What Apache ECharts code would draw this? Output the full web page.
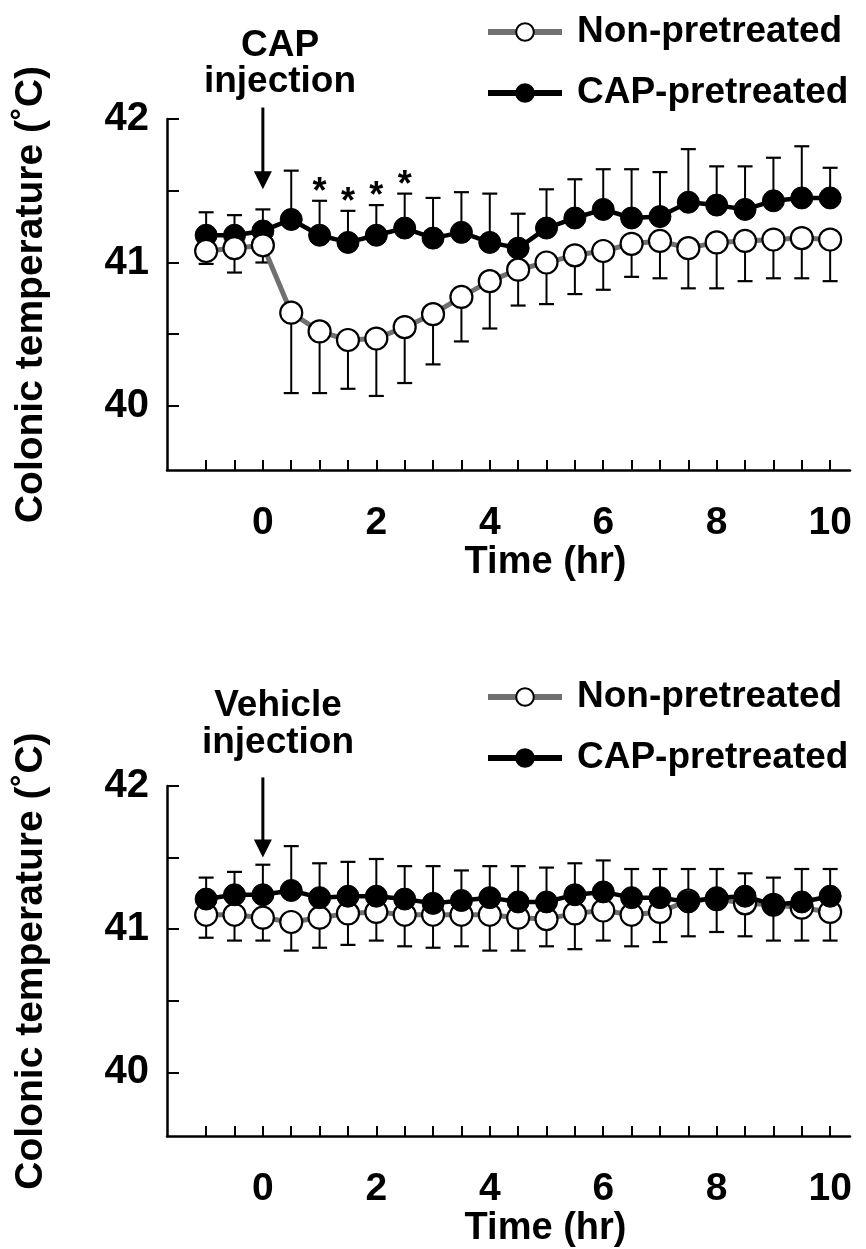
<!DOCTYPE html>
<html><head><meta charset="utf-8">
<script src="https://cdn.jsdelivr.net/npm/echarts@6/dist/echarts.min.js"></script>
<style>html,body{margin:0;padding:0;background:#fff}#c{width:866px;height:1249px}</style>
</head><body><div id="c"></div>
<script>
// ---------- data ----------
const times = [-1,-0.5,0,0.5,1,1.5,2,2.5,3,3.5,4,4.5,5,5.5,6,6.5,7,7.5,8,8.5,9,9.5,10];

// Top panel: CAP injection
const capNon   = [41.08,41.10,41.12,40.65,40.52,40.46,40.47,40.55,40.64,40.76,40.87,40.95,41.00,41.05,41.08,41.13,41.15,41.10,41.14,41.15,41.16,41.17,41.16];
const capNonLo = [40.99,40.93,41.00,40.09,40.09,40.12,40.07,40.16,40.29,40.45,40.54,40.70,40.71,40.78,40.81,40.90,40.89,40.82,40.82,40.87,40.89,40.89,40.87];
const capPre   = [41.19,41.19,41.22,41.30,41.19,41.14,41.19,41.24,41.17,41.21,41.14,41.10,41.24,41.31,41.37,41.31,41.32,41.42,41.40,41.37,41.43,41.45,41.45];
const capPreHi = [41.35,41.33,41.37,41.64,41.43,41.36,41.40,41.48,41.45,41.49,41.48,41.34,41.51,41.58,41.65,41.65,41.63,41.79,41.67,41.67,41.73,41.81,41.66];
const sigTimes = [1,1.5,2,2.5];

// Bottom panel: Vehicle injection
const vehNon   = [41.10,41.10,41.08,41.05,41.08,41.11,41.12,41.10,41.10,41.10,41.10,41.08,41.07,41.11,41.13,41.10,41.12,41.20,41.21,41.18,41.17,41.15,41.12];
const vehNonLo = [40.94,40.92,40.92,40.85,40.87,40.89,40.92,40.88,40.87,40.88,40.85,40.85,40.88,40.86,40.92,40.88,40.91,40.95,40.98,40.95,40.92,40.92,40.92];
const vehPre   = [41.21,41.24,41.24,41.27,41.22,41.23,41.23,41.21,41.18,41.20,41.22,41.19,41.19,41.24,41.26,41.22,41.22,41.19,41.22,41.23,41.17,41.19,41.23];
const vehPreHi = [41.36,41.40,41.45,41.58,41.46,41.47,41.49,41.44,41.44,41.41,41.44,41.44,41.43,41.46,41.48,41.42,41.42,41.42,41.42,41.39,41.36,41.42,41.42];

// axes / ticks
const xTicks  = [-1,-0.5,0,0.5,1,1.5,2,2.5,3,3.5,4,4.5,5,5.5,6,6.5,7,7.5,8,8.5,9,9.5,10];
const xLabels = [0,2,4,6,8,10];
const yTicks  = [40,40.5,41,41.5,42];
const yLabels = [40,41,42];
const seriesNames = ['Non-pretreated','CAP-pretreated'];
const annotTop = ['CAP','injection'];
const annotBottom = ['Vehicle','injection'];
const arrowTop = [0, 42.08, 41.51];
const arrowBottom = [0, 42.06, 41.50];
const xName = 'Time (hr)';
const yName = 'Colonic temperature (˚C)';

// ---------- chart ----------
const FF = "'Liberation Sans', Arial, Helvetica, sans-serif";
const chart = echarts.init(document.getElementById('c'), null, {renderer:'canvas'});

function pairs(ys){ return times.map((t,i)=>[t, ys[i]]); }
function errData(ys, ends){ return times.map((t,i)=>[t, ys[i], ends[i]]); }

function errRender(params, api){
  const p0 = api.coord([api.value(0), api.value(1)]);
  const p1 = api.coord([api.value(0), api.value(2)]);
  const hw = 7.5;
  return {type:'group', children:[
    {type:'line', shape:{x1:p0[0],y1:p0[1],x2:p1[0],y2:p1[1]}, style:{stroke:'#000', lineWidth:2}},
    {type:'line', shape:{x1:p1[0]-hw,y1:p1[1],x2:p1[0]+hw,y2:p1[1]}, style:{stroke:'#000', lineWidth:2.2}}
  ]};
}
function arrowRender(params, api){
  const p0 = api.coord([api.value(0), api.value(1)]);
  const p1 = api.coord([api.value(0), api.value(2)]);
  const hl = 18, hw = 9;
  return {type:'group', children:[
    {type:'line', shape:{x1:p0[0],y1:p0[1],x2:p1[0],y2:p1[1]-hl+2}, style:{stroke:'#000', lineWidth:3}},
    {type:'polygon', shape:{points:[[p1[0]-hw,p1[1]-hl],[p1[0]+hw,p1[1]-hl],[p1[0],p1[1]]]}, style:{fill:'#000'}}
  ]};
}
function starRender(params, api){
  const p = api.coord([api.value(0), api.value(1)]);
  return {type:'text', x:p[0], y:p[1]-8, style:{text:'*', font:'bold 36px '+FF, fill:'#000', align:'center', verticalAlign:'middle'}};
}

function makeX(gi){
  return {
    type:'value', gridIndex:gi, min:-1.69, max:10.35,
    name:xName, nameLocation:'middle', nameGap:68,
    nameTextStyle:{fontSize:38, fontWeight:'bold', color:'#000', fontFamily:FF, padding:[0,0,0,74]},
    axisLine:{onZero:false, lineStyle:{color:'#000', width:2.5}},
    axisTick:{show:true, inside:true, length:10, lineStyle:{color:'#000', width:2}, customValues:xTicks},
    axisLabel:{customValues:xLabels, fontSize:39, fontWeight:'bold', color:'#000', fontFamily:FF, margin:34},
    splitLine:{show:false}
  };
}
function makeY(gi){
  return {
    type:'value', gridIndex:gi, min:39.554, max:42,
    name:yName, nameLocation:'middle', nameGap:116,
    nameTextStyle:{fontSize:39, fontWeight:'bold', color:'#000', fontFamily:FF},
    axisLine:{show:true, onZero:false, lineStyle:{color:'#000', width:2.5}},
    axisTick:{show:true, inside:true, length:12, lineStyle:{color:'#000', width:2}, customValues:yTicks},
    axisLabel:{customValues:yLabels, fontSize:40, fontWeight:'bold', color:'#000', fontFamily:FF, margin:18, padding:[10,0,0,0]},
    splitLine:{show:false}
  };
}

const nonStyle = {
  type:'line', symbol:'circle', symbolSize:22,
  itemStyle:{color:'#fff', borderColor:'#000', borderWidth:2.2},
  lineStyle:{color:'#707070', width:5}, z:3, animation:false
};
const preStyle = {
  type:'line', symbol:'circle', symbolSize:22,
  itemStyle:{color:'#000', borderColor:'#000', borderWidth:1},
  lineStyle:{color:'#000', width:4.5}, z:3, animation:false
};

function legend(top){
  return {
    data:seriesNames, orient:'vertical', left:480, top:top, itemGap:21,
    itemWidth:74, itemHeight:22, selectedMode:false,
    lineStyle:{width:6},
    textStyle:{fontSize:37, lineHeight:40, fontWeight:'bold', color:'#000', fontFamily:FF, padding:[0,0,0,10]}
  };
}

const option = {
  backgroundColor:'#fff',
  animation:false,
  grid:[
    {left:167, top:119, width:683, height:351},
    {left:167, top:786, width:683, height:351}
  ],
  xAxis:[makeX(0), makeX(1)],
  yAxis:[makeY(0), makeY(1)],
  legend:[legend(7), legend(672)],
  graphic:[
    {type:'text', x:280, y:46, style:{text:annotTop[0], font:'bold 37px '+FF, fill:'#000', align:'center', verticalAlign:'middle'}},
    {type:'text', x:280, y:82, style:{text:annotTop[1], font:'bold 37px '+FF, fill:'#000', align:'center', verticalAlign:'middle'}},
    {type:'text', x:278, y:706, style:{text:annotBottom[0], font:'bold 37px '+FF, fill:'#000', align:'center', verticalAlign:'middle'}},
    {type:'text', x:278, y:743, style:{text:annotBottom[1], font:'bold 37px '+FF, fill:'#000', align:'center', verticalAlign:'middle'}}
  ],
  series:[
    // top panel
    {type:'custom', name:'errPreTop', xAxisIndex:0, yAxisIndex:0, renderItem:errRender, data:errData(capPre, capPreHi), z:1, silent:true},
    {type:'custom', name:'errNonTop', xAxisIndex:0, yAxisIndex:0, renderItem:errRender, data:errData(capNon, capNonLo), z:1, silent:true},
    Object.assign({}, preStyle, {name:seriesNames[1], xAxisIndex:0, yAxisIndex:0, data:pairs(capPre)}),
    Object.assign({}, nonStyle, {name:seriesNames[0], xAxisIndex:0, yAxisIndex:0, data:pairs(capNon)}),
    {type:'custom', name:'sig', xAxisIndex:0, yAxisIndex:0, renderItem:starRender,
      data:sigTimes.map(t=>[t, capPreHi[times.indexOf(t)]]), z:4, silent:true},
    {type:'custom', name:'arrowTop', xAxisIndex:0, yAxisIndex:0, renderItem:arrowRender, data:[arrowTop], clip:false, z:4, silent:true},
    // bottom panel
    {type:'custom', name:'errPreBot', xAxisIndex:1, yAxisIndex:1, renderItem:errRender, data:errData(vehPre, vehPreHi), z:1, silent:true},
    {type:'custom', name:'errNonBot', xAxisIndex:1, yAxisIndex:1, renderItem:errRender, data:errData(vehNon, vehNonLo), z:1, silent:true},
    Object.assign({}, nonStyle, {name:seriesNames[0], xAxisIndex:1, yAxisIndex:1, data:pairs(vehNon)}),
    Object.assign({}, preStyle, {name:seriesNames[1], xAxisIndex:1, yAxisIndex:1, data:pairs(vehPre)}),
    {type:'custom', name:'arrowBot', xAxisIndex:1, yAxisIndex:1, renderItem:arrowRender, data:[arrowBottom], clip:false, z:4, silent:true}
  ]
};
chart.setOption(option);
</script>
</body></html>
